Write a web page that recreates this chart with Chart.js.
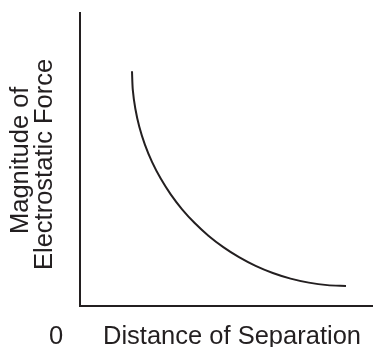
<!DOCTYPE html>
<html>
<head>
<meta charset="utf-8">
<script src="https://cdn.jsdelivr.net/npm/chart.js@4/dist/chart.umd.min.js"></script>
<style>
	html, body { margin: 0; padding: 0; background: #fff; }
	#wrap { width: 373px; height: 347px; }
</style>
</head>
<body>
<div id="wrap"><canvas id="myChart"></canvas></div>
<script>
// Chart data (arbitrary units)

var Distance = [52, 52.8, 55.3, 59.3, 64.9, 72, 80.7, 90.7, 102.1, 114.7, 128.4, 143.3, 159, 175.6, 192.8, 210.6, 228.8, 247.3, 266];
var Force = [234, 215.3, 196.8, 178.6, 160.8, 143.6, 127, 111.3, 96.4, 82.7, 70.1, 58.7, 48.7, 40, 32.9, 27.3, 23.3, 20.8, 20];

var XLabel = "Distance of Separation";
var YLabel = ["Magnitude of", "Electrostatic Force"];
var OriginLabel = "0";

var Ink = "#231f20";
var Font = "25.5px 'Liberation Sans', Arial, sans-serif";

var Points = [];
for (var i = 0; i < Distance.length; i++) {
	Points.push({x: Distance[i], y: Force[i]});
	}

// Labels drawn next to the axes
var labelPlugin = {
	id: "axisLabels",
	afterDraw: function(chart) {
		var ctx = chart.ctx;
		var area = chart.chartArea;
		ctx.save();
		ctx.fillStyle = Ink;
		ctx.font = Font;
		ctx.textBaseline = "alphabetic";
		// x axis text
		ctx.textAlign = "center";
		ctx.fillText(OriginLabel, area.left - 24, area.bottom + 38);
		ctx.fillText(XLabel, area.left + 152, area.bottom + 38);
		// y axis text, rotated
		ctx.rotate(-Math.PI / 2);
		ctx.textAlign = "left";
		ctx.fillText(YLabel[0], -(area.top + 221), 28);
		ctx.fillText(YLabel[1], -(area.top + 257), 52);
		ctx.restore();
		}
	};

var Ctxt = document.getElementById("myChart").getContext("2d");

var ChartInst = new Chart(Ctxt, {
	type: "line",
	data: {
		datasets: [{
			data: Points,
			borderColor: Ink,
			borderWidth: 2,
			pointRadius: 0,
			tension: 0.3,
			fill: false
			}]
		},
	options: {
		animation: false,
		responsive: true,
		maintainAspectRatio: false,
		layout: {
			padding: {left: 72, top: 13, right: 0, bottom: 33}
			},
		plugins: {
			legend: {display: false},
			tooltip: {enabled: false}
			},
		scales: {
			x: {
				type: "linear",
				min: 0,
				max: 293,
				grid: {display: false},
				ticks: {display: false},
				border: {display: true, color: Ink, width: 2}
				},
			y: {
				type: "linear",
				min: 0,
				max: 292,
				grid: {display: false},
				ticks: {display: false},
				border: {display: true, color: Ink, width: 2}
				}
			}
		},
	plugins: [labelPlugin]
	});
</script>
</body>
</html>
